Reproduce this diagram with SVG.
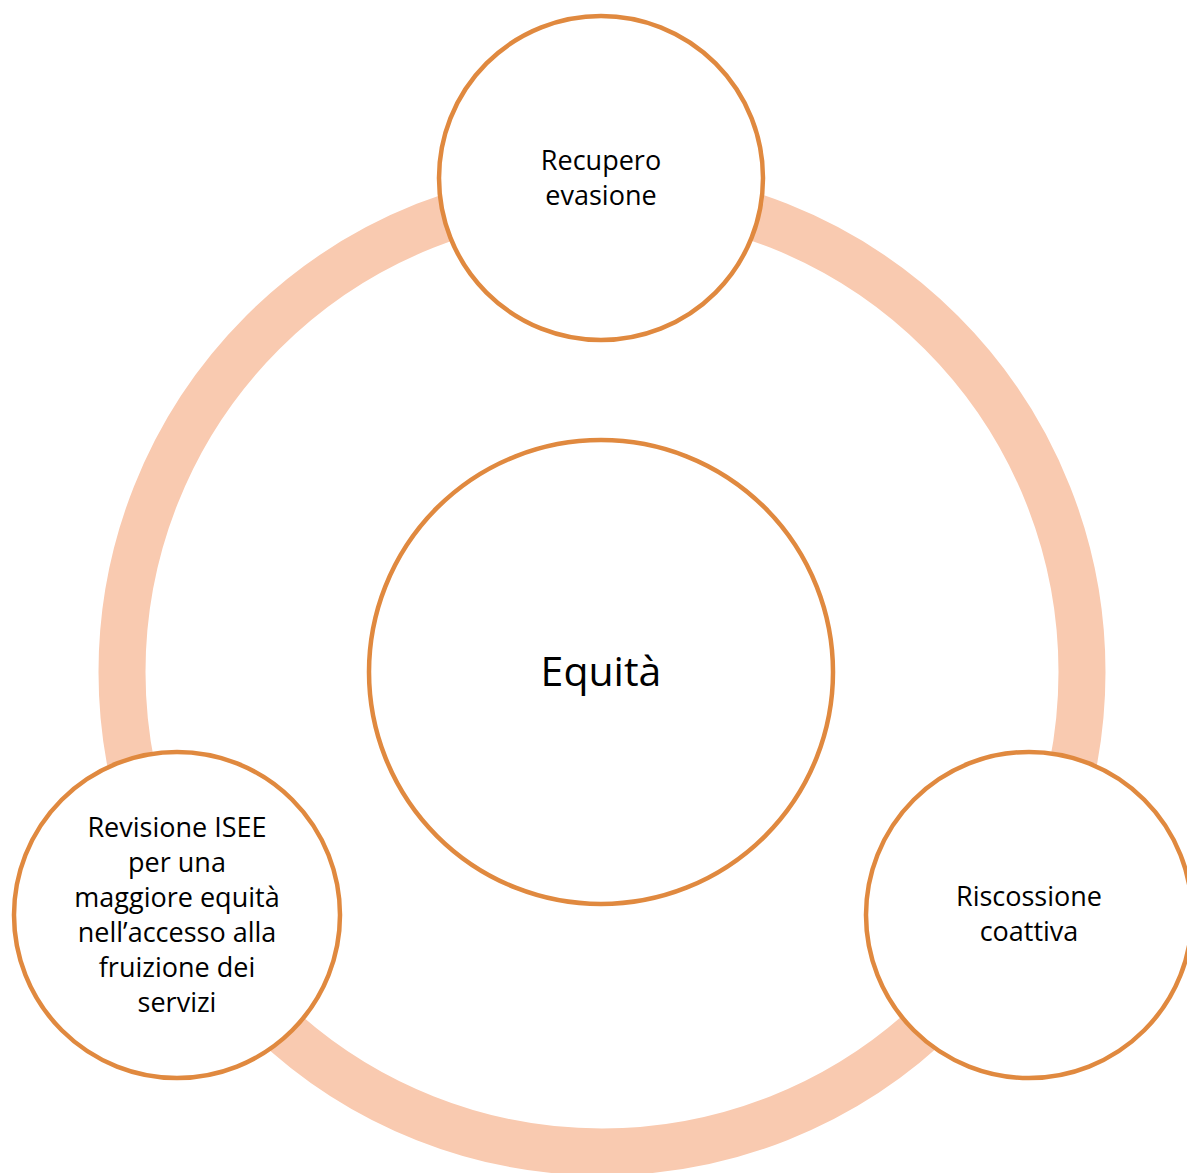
<svg xmlns="http://www.w3.org/2000/svg" width="1187" height="1173" viewBox="0 0 1187 1173">
<style>
.ring{fill:none;stroke:#F9CAB0;stroke-width:47}
.node{fill:#FFFFFF;stroke:#E0893F;stroke-width:4.5}
.lbl{font-family:"Open Sans","Liberation Sans",sans-serif;font-size:27px;fill:#000000;text-anchor:middle}
.big{font-family:"Open Sans","Liberation Sans",sans-serif;font-size:41px;fill:#000000;text-anchor:middle}
</style>
<rect width="1187" height="1173" fill="#FFFFFF"/>
<g id="connectors">
<circle class="ring" cx="602" cy="672" r="480"/>
</g>
<g id="center">
<circle class="node" cx="601" cy="672" r="232"/>
<text class="big" x="601" y="686">Equità</text>
</g>
<g id="top">
<circle class="node" cx="601" cy="178" r="162"/>
<text class="lbl" x="601" y="170">Recupero</text>
<text class="lbl" x="601" y="205">evasione</text>
</g>
<g id="bottom-left">
<circle class="node" cx="177" cy="915" r="163"/>
<text class="lbl" x="177" y="837">Revisione ISEE</text>
<text class="lbl" x="177" y="872">per una</text>
<text class="lbl" x="177" y="907">maggiore equità</text>
<text class="lbl" x="177" y="942">nell’accesso alla</text>
<text class="lbl" x="177" y="977">fruizione dei</text>
<text class="lbl" x="177" y="1012">servizi</text>
</g>
<g id="bottom-right">
<circle class="node" cx="1029" cy="915" r="163"/>
<text class="lbl" x="1029" y="906">Riscossione</text>
<text class="lbl" x="1029" y="941">coattiva</text>
</g>
</svg>
